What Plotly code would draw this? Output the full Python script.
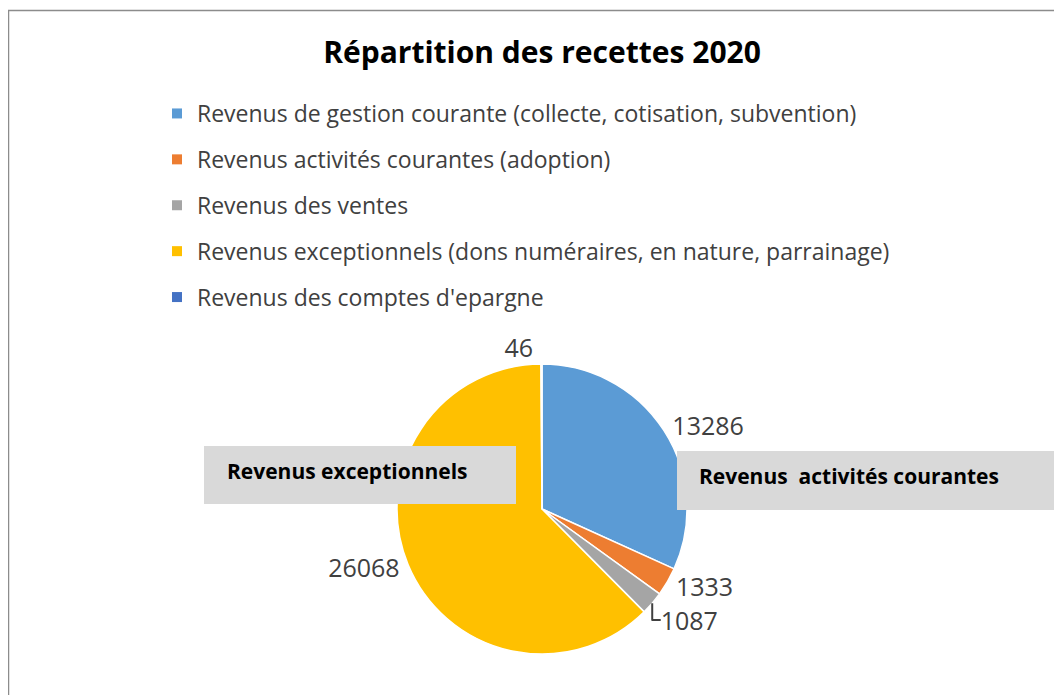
import plotly.graph_objects as go

# the page puts the figure 8px in from the top-left corner
OFF = 8
W, H = 1062 - OFF, 695 - OFF

# data
labels = [
    "Revenus de gestion courante (collecte, cotisation, subvention)",
    "Revenus activités courantes (adoption)",
    "Revenus des ventes",
    "Revenus exceptionnels (dons numéraires, en nature, parrainage)",
    "Revenus des comptes d'epargne",
]
values = [13286, 1333, 1087, 26068, 46]
colors = ["#5B9BD5", "#ED7D31", "#A5A5A5", "#FFC000", "#4472C4"]
box_texts = ["Revenus exceptionnels", "Revenus\u00a0 activités courantes"]

FONT = "Open Sans"
TXT = "#404040"


def px(x):
    # page pixel -> paper fraction
    return (x - OFF) / W


def py(y):
    return 1 - (y - OFF) / H


# pie centre and radius, in page pixels
cx, cy, r = 542, 509, 145

fig = go.Figure()

fig.add_trace(go.Pie(
    labels=labels,
    values=values,
    sort=False,
    direction="clockwise",
    rotation=0,
    marker=dict(colors=colors, line=dict(color="white", width=1.5)),
    texttemplate="%{value:d}",
    textposition="outside",
    outsidetextfont=dict(family=FONT, size=25, color=TXT),
    showlegend=False,
    hoverinfo="label+value+percent",
    domain=dict(x=[px(cx - r), px(cx + r)], y=[py(cy + r), py(cy - r)]),
))

# legend entries (one group each so the spacing can be set)
for i, (lab, col) in enumerate(zip(labels, colors)):
    fig.add_trace(go.Scatter(
        x=[None], y=[None], mode="markers", name=lab,
        marker=dict(symbol="square", size=10, color=col),
        legendgroup=f"g{i}", hoverinfo="skip",
    ))

# grey text boxes laid over the pie
boxes = [(204, 516, 446, 504, 225, 471), (677, 1080, 451, 510, 697, 476)]
for (x0, x1, y0, y1, tx, ty), txt in zip(boxes, box_texts):
    fig.add_shape(type="rect", xref="paper", yref="paper",
                  x0=px(x0), x1=px(x1), y0=py(y1), y1=py(y0),
                  line=dict(width=0), fillcolor="#D9D9D9", layer="above")
    fig.add_annotation(
        x=px(tx), y=py(ty), xref="paper", yref="paper",
        xanchor="left", yanchor="middle", showarrow=False,
        text="<b>" + txt + "</b>", align="left",
        font=dict(family=FONT, size=21, color="black"),
    )

# chart area border
fig.add_shape(type="rect", xref="paper", yref="paper",
              x0=px(8.5), x1=px(1080), y0=py(720), y1=py(10.5),
              line=dict(color="#8C8C8C", width=1.5), fillcolor="rgba(0,0,0,0)",
              layer="below")

fig.update_layout(
    width=W, height=H,
    margin=dict(l=0, r=0, t=0, b=0),
    paper_bgcolor="white", plot_bgcolor="white",
    title=dict(text="<b>Répartition des recettes 2020</b>",
               x=px(542), xanchor="center", y=py(52), yanchor="middle",
               xref="container", yref="container",
               font=dict(family=FONT, size=30, color="black")),
    xaxis=dict(visible=False), yaxis=dict(visible=False),
    legend=dict(x=px(157), y=py(92), xanchor="left", yanchor="top",
                font=dict(family=FONT, size=23, color=TXT),
                tracegroupgap=13, bgcolor="rgba(0,0,0,0)"),
    showlegend=True,
)

fig.write_html("out.html")
